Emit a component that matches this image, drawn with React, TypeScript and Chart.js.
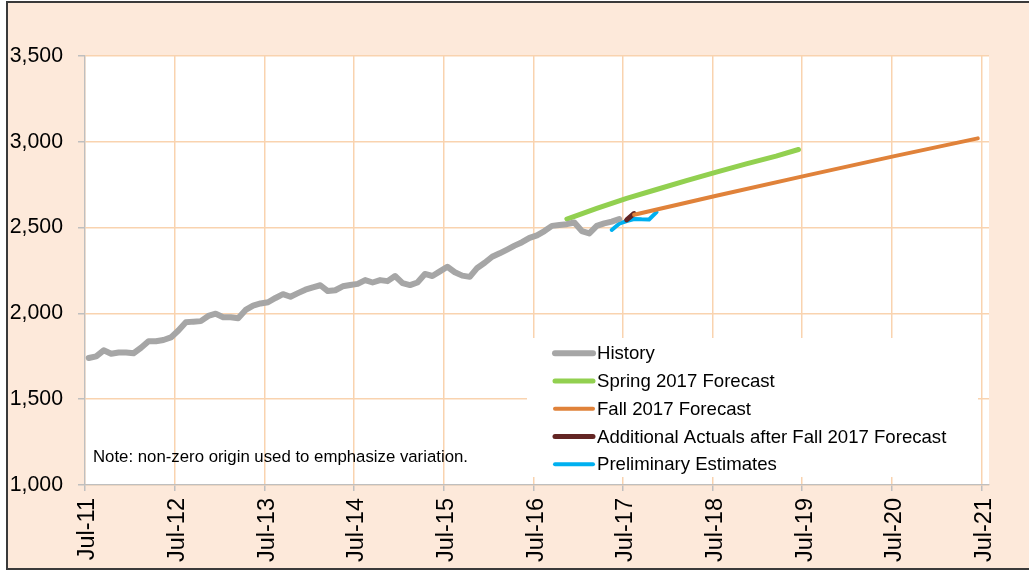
import React, { useEffect, useRef } from 'react';
import { Chart, registerables } from 'chart.js';

Chart.register(...registerables);

// x positions are month indexes counted from Jul-11 (0)
const tickMonths = [0, 12, 24, 36, 48, 60, 72, 84, 96, 108, 120];
const tickLabels = ['Jul-11', 'Jul-12', 'Jul-13', 'Jul-14', 'Jul-15', 'Jul-16', 'Jul-17', 'Jul-18', 'Jul-19', 'Jul-20', 'Jul-21'];

const historyStart = 0;
const historyValues = [
  1740, 1750, 1785, 1765, 1772, 1772, 1768, 1800, 1838, 1838, 1845, 1860, 1900, 1948, 1952, 1955, 1985, 1998, 1978, 1978, 1972, 2020, 2045, 2058, 2065,
  2090, 2112, 2097, 2118, 2138, 2152, 2164, 2130, 2135, 2158, 2165, 2172, 2194, 2180, 2194, 2188, 2218, 2176, 2165, 2180, 2230, 2218, 2245, 2272,
  2240, 2220, 2213, 2265, 2295, 2330, 2350, 2372, 2395, 2415, 2440, 2455, 2480, 2510, 2515, 2520, 2530, 2480, 2466, 2510, 2525, 2535, 2550,
];

const springMonths = [64, 68, 72, 76, 80, 84, 88, 92, 95];
const springValues = [2550, 2612, 2670, 2722, 2774, 2823, 2871, 2917, 2955];

const fallMonths = [73, 84, 96, 108, 119];
const fallValues = [2575, 2686, 2803, 2918, 3020];

const actualMonths = [72, 73];
const actualValues = [2545, 2582];

const prelimMonths = [70, 71, 72, 73, 74, 75, 76];
const prelimValues = [2486, 2523, 2538, 2550, 2548, 2547, 2590];

const yMin = 1000;
const yMax = 3500;
const yStep = 500;
const xMax = 121;

const noteText = 'Note: non-zero origin used to emphasize variation.';
const FONT = '"Liberation Sans", Arial, Helvetica, sans-serif';
const GRID = '#F9D3AF';

const toPoints = (months: number[], values: number[]) =>
  values.map((v, i) => ({ x: months[i] + 0.5, y: v }));

const historyMonths = historyValues.map((_, i) => historyStart + i);

const bgPlugin = {
  id: 'plotBg',
  beforeDraw(chart: any) {
    const { ctx, chartArea: a } = chart;
    ctx.save();
    ctx.fillStyle = '#ffffff';
    ctx.fillRect(a.left, a.top, a.right - a.left, a.bottom - a.top);
    ctx.restore();
  },
};

const overlayPlugin = {
  id: 'overlay',
  afterDatasetsDraw(chart: any) {
    const { ctx, chartArea: a } = chart;
    ctx.save();
    // note
    ctx.font = `16.8px ${FONT}`;
    ctx.fillStyle = '#000';
    ctx.textBaseline = 'middle';
    ctx.textAlign = 'left';
    ctx.fillText(noteText, a.left + 8, a.bottom - 27.5);
    // legend
    const bx = a.left + 442;
    const by = a.top + 282;
    const bw = 451;
    const bh = 139;
    ctx.fillStyle = '#ffffff';
    ctx.fillRect(bx, by, bw, bh);
    ctx.font = `18.6px ${FONT}`;
    chart.data.datasets.forEach((ds: any, i: number) => {
      const y = by + 15.3 + i * 27.75;
      ctx.beginPath();
      ctx.strokeStyle = ds.borderColor;
      ctx.lineWidth = ds.borderWidth;
      ctx.lineCap = 'round';
      ctx.moveTo(bx + 28, y);
      ctx.lineTo(bx + 66, y);
      ctx.stroke();
      ctx.fillStyle = '#000';
      ctx.fillText(ds.label, bx + 70, y + 1);
    });
    ctx.restore();
  },
};

export default function App() {
  const ref = useRef<HTMLCanvasElement>(null);

  useEffect(() => {
    if (!ref.current) return;
    const lineCommon = {
      pointRadius: 0,
      pointHoverRadius: 0,
      tension: 0,
      borderCapStyle: 'round',
      borderJoinStyle: 'round',
      fill: false,
    };
    const chart = new Chart(ref.current, {
      type: 'line',
      data: {
        datasets: [
          { ...lineCommon, label: 'History', data: toPoints(historyMonths, historyValues), borderColor: '#A6A6A6', borderWidth: 6 },
          { ...lineCommon, label: 'Spring 2017 Forecast', data: toPoints(springMonths, springValues), borderColor: '#92D050', borderWidth: 5 },
          { ...lineCommon, label: 'Fall 2017 Forecast', data: toPoints(fallMonths, fallValues), borderColor: '#E0823A', borderWidth: 4 },
          { ...lineCommon, label: 'Additional Actuals after Fall 2017 Forecast', data: toPoints(actualMonths, actualValues), borderColor: '#632523', borderWidth: 5 },
          { ...lineCommon, label: 'Preliminary Estimates', data: toPoints(prelimMonths, prelimValues), borderColor: '#00B0F0', borderWidth: 4 },
        ] as any,
      },
      options: {
        animation: false,
        responsive: false,
        devicePixelRatio: 1,
        events: [],
        layout: { padding: { left: 10, right: 40, top: 56, bottom: 6 } },
        plugins: { legend: { display: false }, tooltip: { enabled: false }, title: { display: false } },
        scales: {
          x: {
            type: 'linear',
            min: 0,
            max: xMax,
            afterBuildTicks: (scale: any) => {
              scale.ticks = tickMonths.map((v) => ({ value: v }));
            },
            afterFit: (scale: any) => {
              scale.height = 80;
            },
            grid: { color: GRID, lineWidth: 1.5, tickColor: '#BFBFBF', tickLength: 6, drawTicks: true },
            border: { color: '#BFBFBF', width: 1.3 },
            ticks: {
              autoSkip: false,
              minRotation: 90,
              maxRotation: 90,
              padding: 7,
              labelOffset: 3,
              color: '#000',
              font: { family: FONT, size: 23.5 },
              callback: (v: any) => {
                const idx = tickMonths.indexOf(Number(v));
                return idx >= 0 ? tickLabels[idx] : '';
              },
            },
          },
          y: {
            type: 'linear',
            min: yMin,
            max: yMax,
            afterFit: (scale: any) => {
              scale.width = 75;
            },
            grid: { color: GRID, lineWidth: 1.5, tickColor: '#BFBFBF', tickLength: 7 },
            border: { color: '#BFBFBF', width: 1.3 },
            ticks: {
              stepSize: yStep,
              padding: 15,
              color: '#000',
              font: { family: FONT, size: 21.3 },
              callback: (v: any) => Number(v).toLocaleString('en-US'),
            },
          },
        },
      } as any,
      plugins: [bgPlugin, overlayPlugin],
    });
    return () => chart.destroy();
  }, []);

  return (
    <div style={{ position: 'fixed', left: 0, top: 0, width: 1029, height: 571, background: '#ffffff', overflow: 'hidden' }}>
      <div
        style={{
          position: 'absolute',
          left: 6,
          top: 1,
          width: 1100,
          height: 569,
          boxSizing: 'border-box',
          border: '2px solid #3a3a3a',
          background: '#FDE9DA',
        }}
      />
      <canvas ref={ref} width={1029} height={571} style={{ position: 'absolute', left: 0, top: 0 }} />
    </div>
  );
}
